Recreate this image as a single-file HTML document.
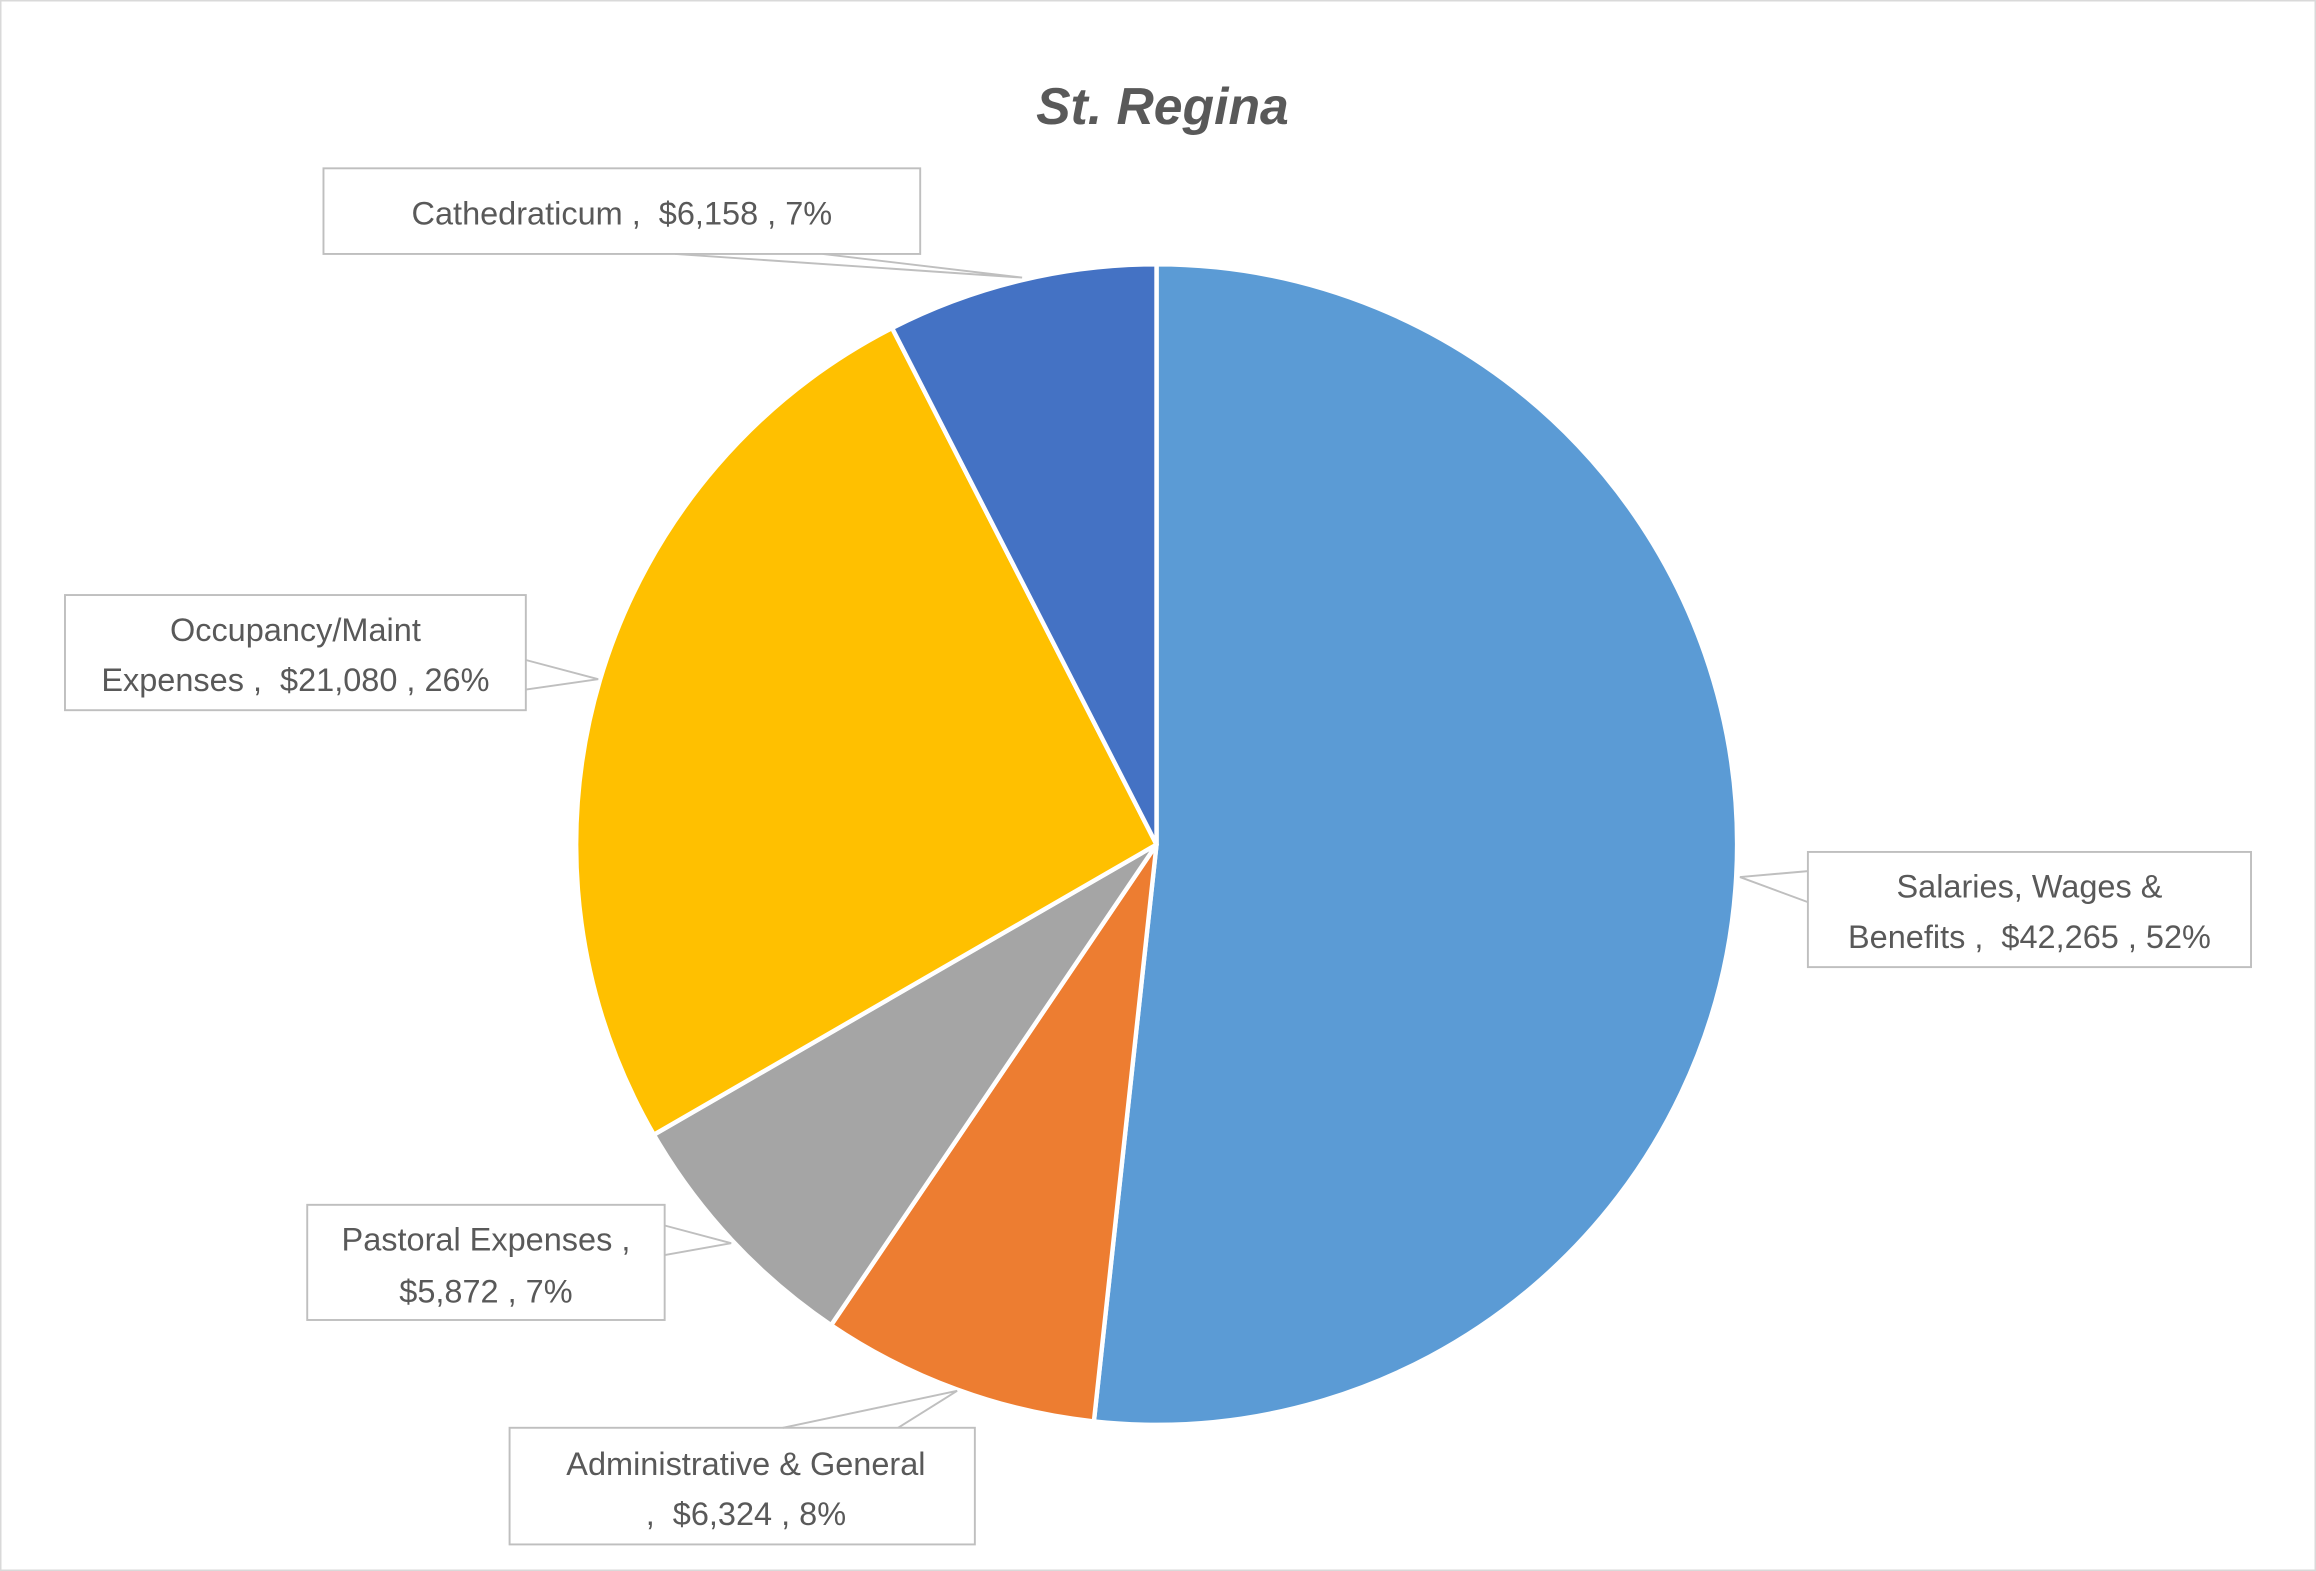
<!DOCTYPE html>
<html><head><meta charset="utf-8"><style>
html,body{margin:0;padding:0;background:#fff;}
svg{display:block;}
text{font-family:"Liberation Sans",sans-serif;fill:#595959;font-size:22px;white-space:pre;}
</style></head><body>
<svg width="2316" height="1571" viewBox="0 0 1568 1064" preserveAspectRatio="none">
<rect x="0.5" y="0.5" width="1567" height="1063" fill="#fff" stroke="#d9d9d9" stroke-width="1"/>
<text x="787" y="84" text-anchor="middle" style="font-size:35px;font-weight:bold;font-style:italic;fill:#595959">St. Regina</text>
<g stroke="#fff" stroke-width="3" stroke-linejoin="round">
<path d="M783,572 L783,179 A393,393 0 1 1 740.6,962.7 Z" fill="#5B9BD5"/>
<path d="M783,572 L740.6,962.7 A393,393 0 0 1 562.7,897.5 Z" fill="#ED7D31"/>
<path d="M783,572 L562.7,897.5 A393,393 0 0 1 442.7,768.5 Z" fill="#A5A5A5"/>
<path d="M783,572 L442.7,768.5 A393,393 0 0 1 604,222.2 Z" fill="#FFC000"/>
<path d="M783,572 L604,222.2 A393,393 0 0 1 783,179 Z" fill="#4472C4"/>
</g>
<g fill="#fff" stroke="#bfbfbf" stroke-width="1.3">
<rect x="219" y="114" width="404" height="58"/>
<polyline points="457,172 692,188 557,172" fill="none"/>
<rect x="44" y="403" width="312" height="78"/>
<polyline points="356,447 405,460 356,467" fill="none"/>
<rect x="1224" y="577" width="300" height="78"/>
<polyline points="1224,590 1178,594 1224,611" fill="none"/>
<rect x="208" y="816" width="242" height="78"/>
<polyline points="450,830 495,842 450,850" fill="none"/>
<rect x="345" y="967" width="315" height="79"/>
<polyline points="530,967 648,942 608,967" fill="none"/>
</g>
<text x="421" y="152" text-anchor="middle">Cathedraticum ,  $6,158 , 7%</text>
<text x="200" y="434" text-anchor="middle">Occupancy/Maint</text>
<text x="200" y="468" text-anchor="middle">Expenses ,  $21,080 , 26%</text>
<text x="1374" y="608" text-anchor="middle">Salaries, Wages &amp;</text>
<text x="1374" y="642" text-anchor="middle">Benefits ,  $42,265 , 52%</text>
<text x="329" y="847" text-anchor="middle">Pastoral Expenses ,</text>
<text x="329" y="882" text-anchor="middle">$5,872 , 7%</text>
<text x="505" y="999" text-anchor="middle">Administrative &amp; General</text>
<text x="505" y="1033" text-anchor="middle">,  $6,324 , 8%</text>
</svg>
</body></html>
